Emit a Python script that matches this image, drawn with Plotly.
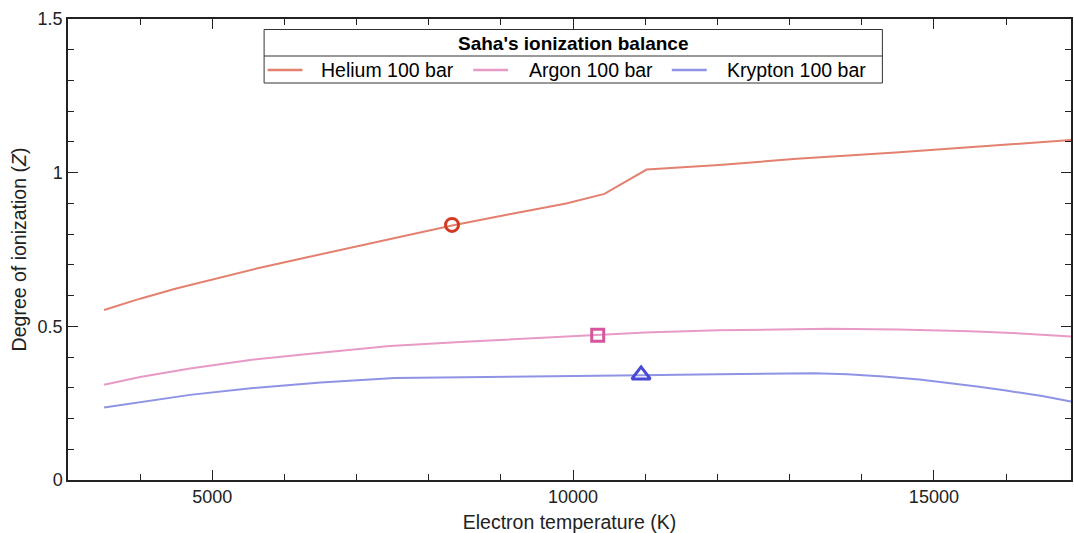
import plotly.graph_objects as go

# ---- data ----
he_T = [3500, 4000, 4500, 5000, 5614, 6300, 7000, 7874, 8322, 9100, 9904, 10434, 11019, 12024, 13100, 14470, 15500, 16900]
he_Z = [0.553, 0.590, 0.623, 0.652, 0.688, 0.724, 0.760, 0.805, 0.828, 0.864, 0.900, 0.931, 1.010, 1.025, 1.045, 1.066, 1.083, 1.106]

ar_T = [3500, 4000, 4691, 5500, 6500, 7459, 8500, 9500, 10341, 11000, 12000, 13547, 14500, 15500, 16200, 16900]
ar_Z = [0.310, 0.335, 0.363, 0.390, 0.414, 0.436, 0.450, 0.462, 0.472, 0.480, 0.487, 0.492, 0.490, 0.484, 0.477, 0.467]

kr_T = [3500, 4000, 4691, 5500, 6500, 7528, 8500, 10000, 10942, 12000, 13340, 13800, 14300, 14800, 15162, 15600, 16000, 16500, 16900]
kr_Z = [0.236, 0.254, 0.277, 0.298, 0.317, 0.332, 0.334, 0.338, 0.341, 0.344, 0.347, 0.344, 0.337, 0.327, 0.317, 0.304, 0.291, 0.273, 0.255]

series_names = ["Helium 100 bar", "Argon 100 bar", "Krypton 100 bar"]
line_colors = ["#E3806F", "#E79AC6", "#8F93E6"]
marker_colors = ["#D23A22", "#D5569C", "#4848D4"]
marker_symbols = ["circle-open", "square-open", "triangle-up-open"]
marker_T = [8322, 10341, 10942]
marker_Z = [0.830, 0.471, 0.342]

legend_title = "Saha's ionization balance"
x_title = "Electron temperature (K)"
y_title = "Degree of ionization (<i>Z</i>)"
x_tickvals = [5000, 10000, 15000]
x_ticktext = ["5000", "10000", "15000"]
y_tickvals = [0, 0.5, 1, 1.5]
y_ticktext = ["0", "0.5", "1", "1.5"]

FONT = "Liberation Sans, Arial, Helvetica, sans-serif"
W, H = 1074, 533
L, R, T, B = 68, 1, 19, 53
PW, PH = W - L - R, H - T - B


def px(x):
    return (x - L) / PW


def py(y):
    return (H - B - y) / PH


fig = go.Figure()
for T_, Z_, c in zip([he_T, ar_T, kr_T], [he_Z, ar_Z, kr_Z], line_colors):
    fig.add_trace(go.Scatter(x=T_, y=Z_, mode="lines", line=dict(color=c, width=2),
                             showlegend=False, hoverinfo="skip"))

sizes = [13, 12, 16]
for i in range(3):
    fig.add_trace(go.Scatter(x=[marker_T[i]], y=[marker_Z[i]], mode="markers",
                             marker=dict(symbol=marker_symbols[i], size=sizes[i],
                                         color=marker_colors[i],
                                         line=dict(color=marker_colors[i], width=3)),
                             showlegend=False, hoverinfo="skip"))

shapes = []
# legend box
shapes.append(dict(type="rect", xref="paper", yref="paper", x0=px(264.5), x1=px(884), y0=py(83), y1=py(29.5),
                   line=dict(color="#333333", width=1), fillcolor="white", layer="above"))
shapes.append(dict(type="line", xref="paper", yref="paper", x0=px(264.5), x1=px(884), y0=py(56), y1=py(56),
                   line=dict(color="#333333", width=1), layer="above"))
seg_x = [(268, 303), (474, 509), (673, 708)]
text_x = [320, 528, 726]
annotations = [dict(text="<b>" + legend_title + "</b>", x=px(574), y=py(43.5), xref="paper", yref="paper",
                    showarrow=False, xanchor="center", yanchor="middle",
                    font=dict(family=FONT, size=19, color="black"))]
for i in range(3):
    shapes.append(dict(type="line", xref="paper", yref="paper", x0=px(seg_x[i][0]), x1=px(seg_x[i][1]),
                       y0=py(70), y1=py(70), line=dict(color=line_colors[i], width=2.5), layer="above"))
    annotations.append(dict(text=series_names[i], x=px(text_x[i]), y=py(70), xref="paper", yref="paper",
                            showarrow=False, xanchor="left", yanchor="middle",
                            font=dict(family=FONT, size=19.5, color="black")))

axis_common = dict(showline=True, linecolor="#222222", linewidth=1.5, mirror="ticks",
                   ticks="inside", ticklen=10, tickwidth=1.3, tickcolor="#222222",
                   showgrid=False, zeroline=False,
                   tickfont=dict(family=FONT, size=18, color="#222222"))

fig.update_layout(
    width=W, height=H,
    margin=dict(l=L, r=R, t=T, b=B),
    paper_bgcolor="white", plot_bgcolor="white",
    shapes=shapes, annotations=annotations,
    xaxis=dict(range=[3000, 16900], tickvals=x_tickvals, ticktext=x_ticktext,
               minor=dict(dtick=1000, tick0=0, ticks="inside", ticklen=6, tickwidth=1.2, tickcolor="#222222"),
               title=dict(text=x_title, font=dict(family=FONT, size=19.5, color="#222222"), standoff=9),
               **axis_common),
    yaxis=dict(range=[0, 1.5], tickvals=y_tickvals, ticktext=y_ticktext,
               minor=dict(dtick=0.1, tick0=0, ticks="inside", ticklen=6, tickwidth=1.2, tickcolor="#222222"),
               title=dict(text=y_title, font=dict(family=FONT, size=19.5, color="#222222"), standoff=6),
               **axis_common),
)

fig.write_html("out.html")
